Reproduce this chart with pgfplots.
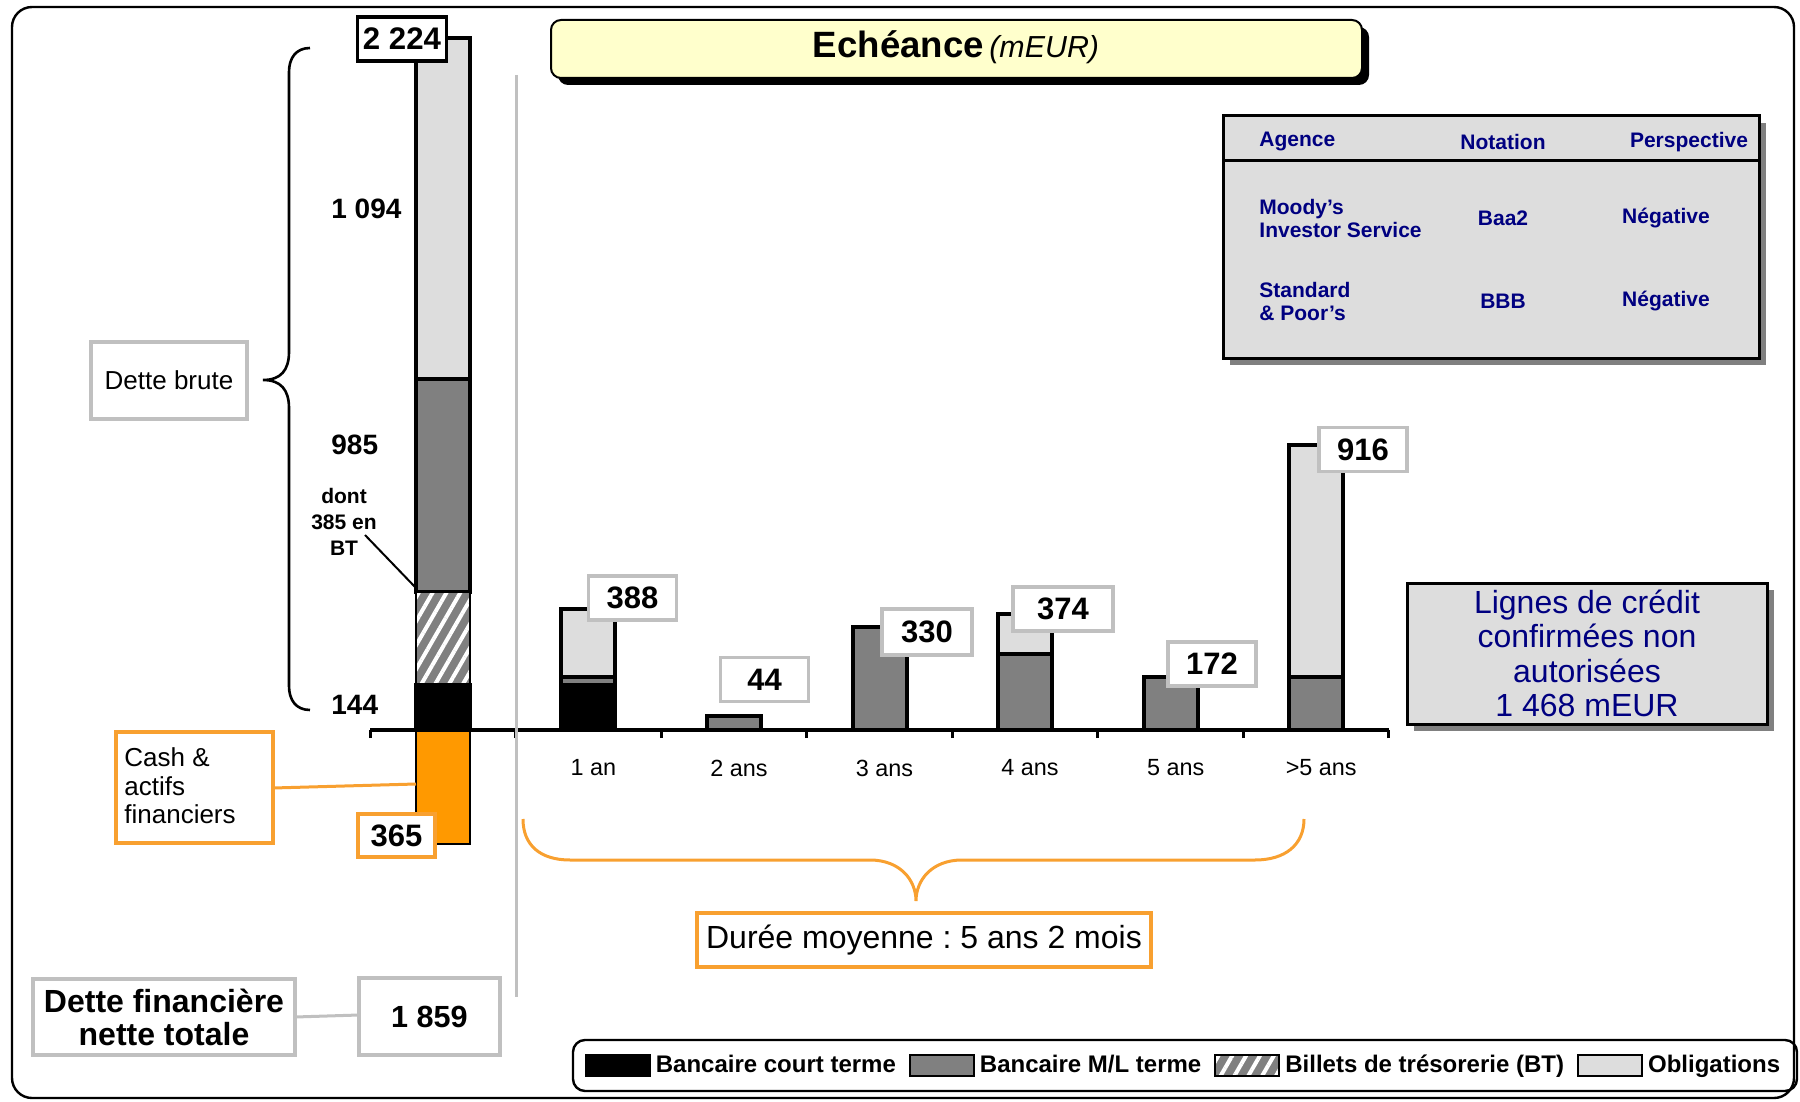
\documentclass[border=0pt]{standalone}
\usepackage{pgfplots}
\pgfplotsset{compat=1.18}
\usepackage{fontspec}
\setmainfont{Liberation Sans}
\usetikzlibrary{patterns.meta}
\frenchspacing

\definecolor{mlgray}{RGB}{128,128,128}
\definecolor{oblig}{RGB}{221,221,221}
\definecolor{cashorange}{RGB}{255,153,0}
\definecolor{frameorange}{RGB}{248,160,48}
\definecolor{boxgray}{RGB}{192,192,192}
\definecolor{titleyellow}{RGB}{255,255,204}
\definecolor{navy}{RGB}{0,0,128}
\definecolor{panelgray}{RGB}{221,221,221}

\pgfplotsset{
  swatch/.style={legend image code/.code={\draw[##1, line width=1pt] (0pt,-5.25pt) rectangle (32pt,5.25pt);}},
  hatched/.style={fill=mlgray, draw=black, line width=1pt,
    postaction={pattern={Lines[angle=60,distance=6pt,line width=2pt]}, pattern color=white}},
  geom/.style={at={(axorig)}, anchor=south west, scale only axis,
    width=509.5pt, height=420.1pt, xmin=-0.5, xmax=6.5, ymin=-400, ymax=2300,
    enlargelimits=false, clip=false, bar width=27pt},
}

\begin{document}
\begin{tikzpicture}[x=0.5pt,y=-0.5pt]
\useasboundingbox (0,0) rectangle (1800,1102);
\coordinate (axorig) at (370,854.5);

% outer frame
\draw[line width=1.2pt, rounded corners=10pt] (12,7) rectangle (1794,1098);

% cash bar (below zero)
\begin{axis}[geom, hide axis, ybar]
\addplot[fill=cashorange, draw=black, line width=1pt] coordinates {(0,-365)};
\end{axis}

% debt by type and maturity
\begin{axis}[geom, ybar stacked,
    axis x line=middle, axis y line=none,
    x axis line style={-, line width=1.8pt},
    xtick={-0.5,0.5,...,6.5}, x tick label as interval,
    xticklabels={{},1 an,2 ans,3 ans,4 ans,5 ans,{>5 ans}},
    tick align=outside, major tick length=4pt,
    x tick style={black, line width=1.5pt},
    xticklabel style={font=\fontsize{11.7}{14}\selectfont, yshift=-7.3pt, xshift=2.5pt},
    legend columns=4,
    legend style={at={(axis description cs:0.7998,-0.2511)}, anchor=center,
      draw=none, fill=none, font=\bfseries\fontsize{12}{14}\selectfont,
      nodes={inner xsep=2.5pt, inner ysep=1pt},
      /tikz/every even column/.append style={column sep=4pt}},
  ]
\addplot[fill=black, draw=black, line width=2pt, swatch]
  coordinates {(0,144)(1,144)(2,0)(3,0)(4,0)(5,0)(6,0)};
\addplot[hatched, forget plot]
  coordinates {(0,300)(1,0)(2,0)(3,0)(4,0)(5,0)(6,0)};
\addplot[fill=mlgray, draw=black, line width=2pt, swatch]
  coordinates {(0,685)(1,25)(2,44)(3,330)(4,244)(5,172)(6,170)};
\addlegendimage{hatched, swatch}
\addplot[fill=oblig, draw=black, line width=2pt, swatch]
  coordinates {(0,1094)(1,219)(2,0)(3,0)(4,130)(5,0)(6,746)};
\legend{Bancaire court terme, Bancaire M/L terme, Billets de trésorerie (BT), Obligations}
\end{axis}

% legend frame
\draw[line width=1.2pt, rounded corners=6pt] (573,1040) rectangle (1797,1091);

% separator
\draw[boxgray, line width=1.5pt] (516,75) -- (516,997);

% title
\fill[black, rounded corners=5pt] (558,27) rectangle (1369,85);
\draw[fill=titleyellow, line width=1pt, rounded corners=5pt] (551,20) rectangle (1362,78);
\node at (956,47) {{\bfseries\fontsize{18.3}{22}\selectfont Echéance} {\itshape\fontsize{15.2}{18}\selectfont (mEUR)}};

% ratings panel
\fill[black!50] (1230,123) rectangle (1766,365);
\draw[fill=panelgray, line width=1.5pt] (1223,116) rectangle (1759,358);
\draw[line width=1.5pt] (1223,161) -- (1759,161);
\begin{scope}[every node/.style={text=navy, font=\bfseries\fontsize{10.5}{11.5}\selectfont, inner sep=0pt}]
\node[anchor=west] at (1259,142) {Agence};
\node at (1503,142) {Notation};
\node at (1689,142) {Perspective};
\node[anchor=west, align=left] at (1259,218) {Moody’s\\Investor Service};
\node at (1503,218) {Baa2};
\node at (1666,218) {Négative};
\node[anchor=west, align=left] at (1259,301) {Standard\\\& Poor’s};
\node at (1503,301) {BBB};
\node at (1666,301) {Négative};
\end{scope}

% credit lines panel
\fill[black!50] (1414,590) rectangle (1774,731);
\draw[fill=panelgray, line width=1.5pt] (1407,583) rectangle (1767,724);
\node[text=navy, align=center, font=\fontsize{16}{17.25}\selectfont] at (1587,653.5)
  {Lignes de crédit\\confirmées non\\autorisées\\1 468 mEUR};

% brace for gross debt
\draw[line width=1.3pt] (310,48) .. controls (296,48) and (289,58) .. (289,72) -- (289,352)
  .. controls (289,370) and (281,380) .. (263,380)
  .. controls (281,380) and (289,390) .. (289,408) -- (289,686)
  .. controls (289,700) and (296,710) .. (310,710);
\node[draw=boxgray, line width=2pt, fill=white, minimum width=78pt, minimum height=38.5pt,
  font=\fontsize{13}{15}\selectfont] at (169,380.5) {Dette brute};

% left stack labels
\node[draw=black, line width=1.6pt, fill=white, minimum width=44.5pt, minimum height=22pt,
  inner sep=0pt, font=\bfseries\fontsize{15.6}{18}\selectfont] at (402,39) {2 224};
\begin{scope}[every node/.style={anchor=west, inner sep=0pt, font=\bfseries\fontsize{14}{16}\selectfont}]
\node at (331,209) {1 094};
\node at (331,445) {985};
\node at (331,705) {144};
\end{scope}
\node[align=center, inner sep=0pt, font=\bfseries\fontsize{10.5}{13}\selectfont] at (344,522) {dont\\385 en\\BT};
\draw[line width=1pt] (365,535) -- (416,588);

% cash annotations
\draw[frameorange, line width=1.8pt, fill=white] (116,732) rectangle (273,843);
\node[anchor=west, align=left, inner sep=0pt, font=\fontsize{13}{14.25}\selectfont] at (124,786)
  {Cash \&\\actifs\\financiers};
\draw[frameorange, line width=1.5pt] (273,788) -- (416,784);
\node[draw=frameorange, line width=1.8pt, fill=white, minimum width=38.5pt, minimum height=21.5pt,
  inner sep=0pt, font=\bfseries\fontsize{15.5}{18}\selectfont] at (396.5,835.5) {365};

% value labels
\begin{scope}[every node/.style={draw=boxgray, line width=1.8pt, fill=white, minimum width=44pt,
  minimum height=22pt, inner sep=0pt, font=\bfseries\fontsize{15.5}{18}\selectfont}]
\node at (632.5,598) {388};
\node at (764.5,679.5) {44};
\node[minimum width=45pt, minimum height=23pt] at (927,632) {330};
\node[minimum width=50pt] at (1063,609) {374};
\node at (1212,664) {172};
\node at (1363,449.5) {916};
\end{scope}

% average maturity
\draw[frameorange, line width=1.5pt] (523,819) .. controls (523,845) and (540,860) .. (570,860) -- (870,860)
  .. controls (900,860) and (916,880) .. (916,901)
  .. controls (916,880) and (932,860) .. (962,860) -- (1255,860)
  .. controls (1285,860) and (1304,845) .. (1304,819);
\node[draw=frameorange, line width=1.8pt, fill=white, minimum width=227pt, minimum height=27pt,
  font=\fontsize{16}{18}\selectfont] at (924,940) {Durée moyenne : 5 ans 2 mois};

% net debt
\node[draw=boxgray, line width=2pt, fill=white, minimum width=131pt, minimum height=38pt,
  align=center, inner sep=0pt, font=\bfseries\fontsize{16}{16.5}\selectfont] at (164,1017)
  {Dette financière\\nette totale};
\draw[boxgray, line width=1.5pt] (295,1017) -- (359,1015);
\node[draw=boxgray, line width=2pt, fill=white, minimum width=70.5pt, minimum height=38.5pt,
  inner sep=0pt, font=\bfseries\fontsize{15.3}{18}\selectfont] at (429.5,1016.5) {1 859};

\end{tikzpicture}
\end{document}
